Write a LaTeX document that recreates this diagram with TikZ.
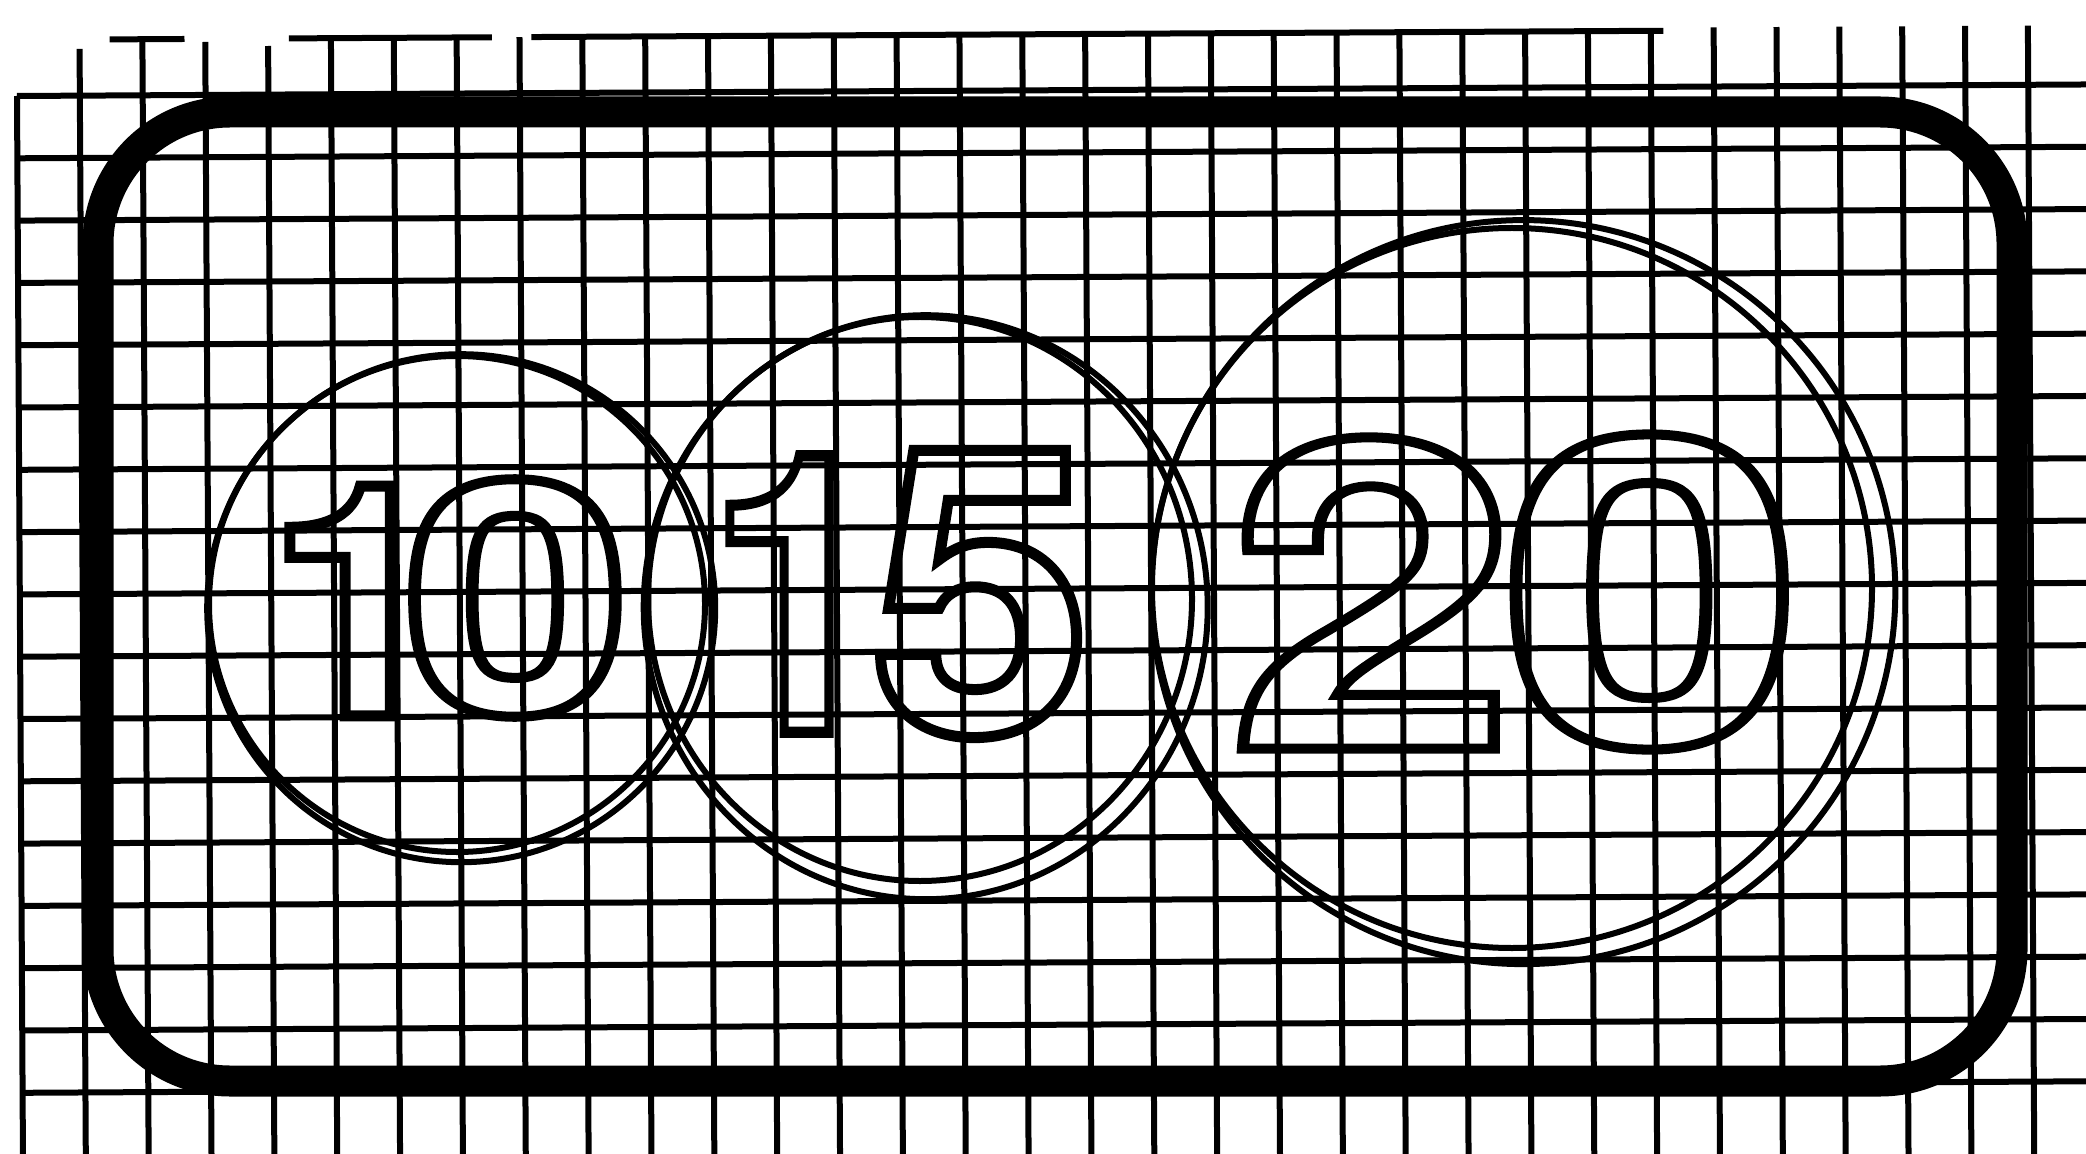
\documentclass[tikz,border=0pt]{standalone}
\usepackage{fontspec}
\usepackage{graphicx}
\newfontfamily\heros{TeX Gyre Heros}
\newcommand\outl[4]{\scalebox{#2}[1]{\fontsize{#1}{#1}\selectfont\heros\bfseries\special{pdf:literal direct #3 w 0 j 1 Tr}#4\special{pdf:literal direct 0 Tr}}}
\tikzset{
  gridline/.style={line width=3pt},
  ring/.style={line width=3pt},
  frame/.style={line width=15.5pt, rounded corners=66pt},
  digit/.style={inner sep=0pt, outer sep=0pt},
}
\begin{document}
\begin{tikzpicture}[x=0.5pt,y=-0.5pt]
\fill[white] (0,0) rectangle (2086,1154);
\useasboundingbox (0,0) rectangle (2086,1154);
\begin{scope}
\clip (0,0) rectangle (2086,1154);
% grid
\coordinate (G) at (17,96);
\begin{scope}[shift={(G)}, x={(31.425pt,0.175pt)}, y={(0.175pt,-31.15pt)}]
  \foreach \j in {0,...,16} \draw[gridline] (0,\j) -- (34,\j);
  \draw[gridline] (1.48,-0.9) -- (2.67,-0.9) (4.33,-0.9) -- (7.56,-0.9) (8.19,-0.9) -- (26.2,-0.9);
  \foreach \k/\s in {1/-0.75,2/-0.9,3/-0.85,4/-0.78,5/-0.9,6/-0.9,7/-0.9,8/-0.9,9/-0.9,10/-0.9,11/-0.9,12/-0.9,13/-0.9,14/-0.9,15/-0.9,16/-0.9,17/-0.9,18/-0.9,19/-0.9,20/-0.9,21/-0.9,22/-0.9,23/-0.9,24/-0.9,25/-0.9,26/-0.9,27/-0.95,28/-0.95,29/-0.95,30/-0.95,31/-0.95,32/-0.95}
    \draw[gridline] (\k,\s) -- (\k,17.5);
  \draw[gridline] (0,0) -- (0,17.5);
\end{scope}
% frame
\draw[frame] (98,112) rectangle (2012,1081);
% circles
\draw[ring] (457,604) circle[radius=248];
\draw[ring] (461.2,608.2) circle[radius=254];
\draw[ring] (920,599) ellipse[x radius=272, y radius=282];
\draw[ring] (925.7,607.2) ellipse[x radius=282, y radius=292];
\draw[ring] (1512,588) circle[radius=360];
\draw[ring] (1523.3,592.1) circle[radius=372];
% digits
\node[digit] (d1) at (358,601) {\outl{162pt}{1.0}{5.5}{1}};
\node[digit] (d2) at (517,598) {\outl{162pt}{1.27}{5}{0}};
\node[digit] (d3) at (797,594) {\outl{195pt}{0.82}{5.5}{1}};
\node[digit] (d4) at (981,594) {\outl{200pt}{1.0}{5.5}{5}};
\node[digit] (d5) at (1372,593) {\outl{215pt}{1.21}{5}{2}};
\node[digit] (d6) at (1652,592) {\outl{215pt}{1.27}{5}{0}};
\end{scope}
\end{tikzpicture}
\end{document}
